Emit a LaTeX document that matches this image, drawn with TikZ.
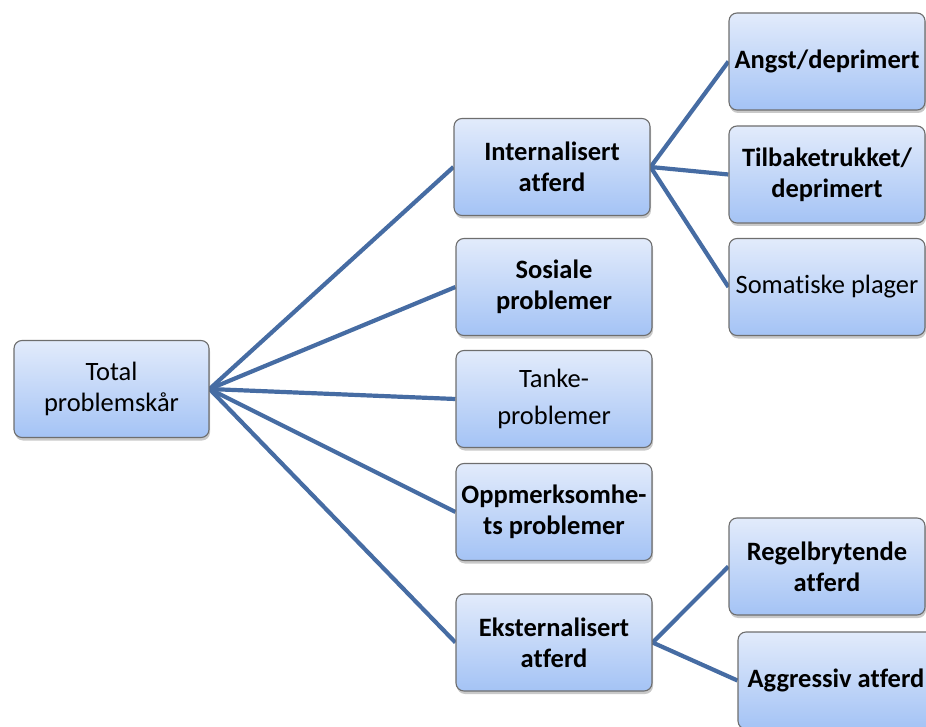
\documentclass[tikz,border=0pt]{standalone}
\usepackage{fontspec}
\setmainfont{Carlito}[Ligatures={NoCommon,NoContextual}]
\usetikzlibrary{shadows,backgrounds}
\definecolor{boxtop}{RGB}{226,235,251}
\definecolor{boxbot}{RGB}{164,195,245}
\definecolor{boxline}{RGB}{110,110,110}
\definecolor{linkcol}{RGB}{70,108,163}
\tikzset{
  catbox/.style={draw=boxline, line width=1.1pt, rounded corners=8pt,
    top color=boxtop, bottom color=boxbot,
    minimum width=196pt, minimum height=97pt, align=center, inner sep=2pt,
    font=\fontsize{26.5}{31}\selectfont,
    drop shadow={shadow xshift=1pt, shadow yshift=-3pt, opacity=0.3, fill=black!70}},
  boldbox/.style={catbox, font=\fontsize{26.5}{31}\selectfont\bfseries},
  link/.style={draw=linkcol, line width=4.2pt}
}
\begin{document}
\begin{tikzpicture}[x=1pt,y=-1pt]
\useasboundingbox (0,0) rectangle (926,727);
\node[catbox, minimum width=195pt] (total) at (111.5,389) {Total\\problemskår};
\node[boldbox] (int) at (552,167) {Internalisert\\atferd};
\node[boldbox] (sos) at (554,287) {Sosiale\\problemer};
\node[catbox] (tanke) at (554,399) {Tanke-\\[6pt]problemer};
\node[boldbox] (opp) at (554,512) {Oppmerksomhe-\\ts problemer};
\node[boldbox] (eks) at (554,642.5) {Eksternalisert\\atferd};
\node[boldbox] (angst) at (827,61.5) {Angst/deprimert};
\node[boldbox] (tilb) at (827,174.5) {Tilbaketrukket/\\deprimert};
\node[catbox] (som) at (827,287) {Somatiske plager};
\node[boldbox] (regel) at (827,566.5) {Regelbrytende\\atferd};
\node[boldbox] (aggr) at (836,680.5) {Aggressiv atferd};
\begin{scope}[on background layer]
\foreach \t in {int,sos,tanke,opp,eks}
  \draw[link] (total.east) -- (\t.west);
\foreach \t in {angst,tilb,som}
  \draw[link] (int.east) -- (\t.west);
\foreach \t in {regel,aggr}
  \draw[link] (eks.east) -- (\t.west);
\end{scope}
\end{tikzpicture}
\end{document}
